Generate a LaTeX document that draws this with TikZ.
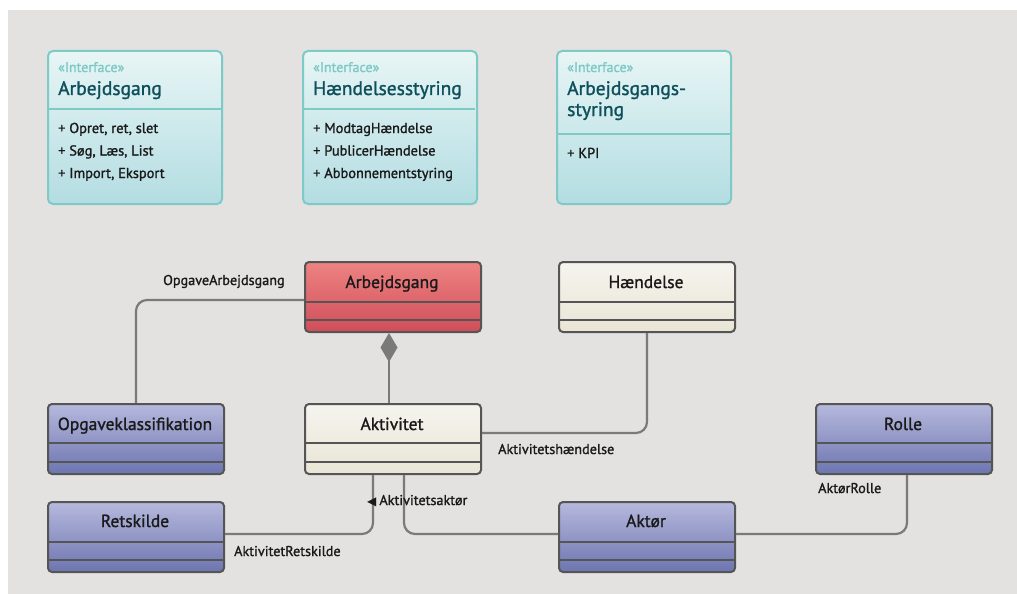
\documentclass[tikz,border=0pt]{standalone}
\usepackage{fontspec}
\setmainfont{PT Sans}[FakeBold=1.3]
\newfontfamily\symfont{DejaVu Sans}
\usetikzlibrary{arrows.meta}

\definecolor{canvas}{HTML}{E3E2E0}
\definecolor{ifborder}{HTML}{7ECAC6}
\definecolor{iftop}{HTML}{E8F5F5}
\definecolor{ifbot}{HTML}{B3DDE2}
\definecolor{stereo}{HTML}{7CC8C6}
\definecolor{iftitle}{HTML}{0E4F5C}
\definecolor{clsborder}{HTML}{555555}
\definecolor{redtop}{HTML}{EE8383}
\definecolor{redbot}{HTML}{CF4E58}
\definecolor{creamtop}{HTML}{F5F4EE}
\definecolor{creambot}{HTML}{E9E5D6}
\definecolor{bluetop}{HTML}{B6B9DD}
\definecolor{bluebot}{HTML}{6D75B0}
\definecolor{connector}{HTML}{7A7A7A}
\definecolor{ink}{HTML}{1A1A1A}

\tikzset{
  ifbox/.style={draw=ifborder, line width=2pt, rounded corners=5pt,
    top color=iftop, bottom color=ifbot, anchor=north west,
    minimum width=174pt, minimum height=153pt, inner sep=0pt},
  stereotype/.style={anchor=base west, inner sep=0pt, text=stereo,
    font=\fontsize{14}{16}\selectfont},
  ifhead/.style={anchor=base west, inner sep=0pt, text=iftitle,
    font=\fontsize{19.5}{21}\selectfont},
  ifitem/.style={anchor=base west, inner sep=0pt, text=ink,
    font=\fontsize{14.4}{16}\selectfont},
  clsbox/.style={draw=clsborder, line width=2pt, rounded corners=4pt,
    anchor=north west, minimum width=176pt, minimum height=70pt, inner sep=0pt},
  redcls/.style={clsbox, top color=redtop, bottom color=redbot},
  creamcls/.style={clsbox, top color=creamtop, bottom color=creambot},
  bluecls/.style={clsbox, top color=bluetop, bottom color=bluebot},
  clstitle/.style={anchor=base, text=ink, inner sep=0pt,
    font=\fontsize{17.5}{19}\selectfont},
  divider/.style={draw=clsborder, line width=2pt},
  ifdivider/.style={draw=ifborder, line width=2pt},
  conn/.style={draw=connector, line width=2.2pt, rounded corners=11pt},
  assoc/.style={anchor=base west, text=ink, inner sep=0pt,
    font=\fontsize{14.2}{15}\selectfont},
}

\begin{document}
\begin{tikzpicture}[x=1pt, y=-1pt]
  % canvas
  \useasboundingbox (0,0) rectangle (1017,594);
  \fill[white] (0,0) rectangle (1017,594);
  \fill[canvas] (8,10) rectangle (1017,594);

  % ---- interfaces ----
  \node[ifbox] (ifArb) at (47,50) {};
  \draw[ifdivider] (47,109) -- (221,109);
  \node[stereotype] (ifArbS) at (58,72) {«Interface»};
  \node[ifhead] (ifArbT) at (58,95) {Arbejdsgang};
  \node[ifitem] (ifArb1) at (58,133) {+ Opret, ret, slet};
  \node[ifitem] (ifArb2) at (58,155.5) {+ Søg, Læs, List};
  \node[ifitem] (ifArb3) at (58,178) {+ Import, Eksport};

  \node[ifbox] (ifHae) at (302,50) {};
  \draw[ifdivider] (302,109) -- (475,109);
  \node[stereotype] (ifHaeS) at (313,72) {«Interface»};
  \node[ifhead] (ifHaeT) at (313,95) {Hændelsesstyring};
  \node[ifitem] (ifHae1) at (313,133) {+ ModtagHændelse};
  \node[ifitem] (ifHae2) at (313,155.5) {+ PublicerHændelse};
  \node[ifitem] (ifHae3) at (313,178) {+ Abbonnementstyring};

  \node[ifbox] (ifStyr) at (556,50) {};
  \draw[ifdivider] (556,134) -- (730,134);
  \node[stereotype] (ifStyrS) at (567,72) {«Interface»};
  \node[ifhead] (ifStyrT1) at (567,95) {Arbejdsgangs-};
  \node[ifhead] (ifStyrT2) at (567,116) {styring};
  \node[ifitem] (ifStyr1) at (567,158) {+ KPI};

  % ---- classes ----
  \node[redcls] (arb) at (304,261) {};
  \draw[divider] (304,302) -- (480,302) (304,320) -- (480,320);
  \node[clstitle] (arbT) at (392,288) {Arbejdsgang};

  \node[creamcls] (hae) at (558,261) {};
  \draw[divider] (558,302) -- (734,302) (558,320) -- (734,320);
  \node[clstitle] (haeT) at (646,288) {Hændelse};

  \node[bluecls] (opg) at (47,403) {};
  \draw[divider] (47,443) -- (223,443) (47,462) -- (223,462);
  \node[clstitle] (opgT) at (135,430) {Opgaveklassifikation};

  \node[creamcls] (akt) at (304,403) {};
  \draw[divider] (304,443) -- (480,443) (304,462) -- (480,462);
  \node[clstitle] (aktT) at (392,430) {Aktivitet};

  \node[bluecls] (rol) at (815,403) {};
  \draw[divider] (815,443) -- (991,443) (815,462) -- (991,462);
  \node[clstitle] (rolT) at (903,430) {Rolle};

  \node[bluecls] (ret) at (47,501) {};
  \draw[divider] (47,542) -- (223,542) (47,560) -- (223,560);
  \node[clstitle] (retT) at (135,527) {Retskilde};

  \node[bluecls] (aktr) at (558,501) {};
  \draw[divider] (558,542) -- (734,542) (558,560) -- (734,560);
  \node[clstitle] (aktrT) at (646,527) {Aktør};

  % ---- associations ----
  \draw[conn] ([yshift=-3pt]arb.west) -| (opg.north);
  \draw[conn, rounded corners=0pt, -{Diamond[length=29pt, width=17pt, fill=connector]}]
    ([xshift=-4pt]akt.north) -- ([xshift=-4pt]arb.south);
  \draw[conn] ([yshift=6pt]akt.east) -| (hae.south);
  \draw[conn] ([yshift=3pt]ret.east) -| ([xshift=-20pt]akt.south);
  \draw[conn] ([xshift=11pt]akt.south) |- ([yshift=3pt]aktr.west);
  \draw[conn] ([yshift=3pt]aktr.east) -| ([xshift=3pt]rol.south);

  % ---- association names ----
  \node[assoc] (lOA) at (163,285) {OpgaveArbejdsgang};
  \node[assoc] (lAH) at (498,454) {Aktivitetshændelse};
  \node[assoc] (lAR) at (234,556) {AktivitetRetskilde};
  \node[assoc] (lAA) at (367,505)
    {{\symfont\fontsize{12}{12}\selectfont ◀}\hspace{3pt}Aktivitetsaktør};
  \node[assoc] (lRo) at (818,493) {AktørRolle};
\end{tikzpicture}
\end{document}
